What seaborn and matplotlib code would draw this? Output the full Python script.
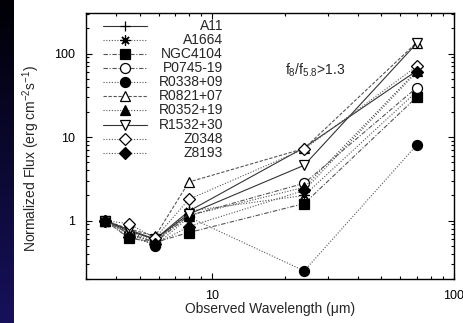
import matplotlib.pyplot as plt
import numpy as np
import pandas as pd
import seaborn as sns
from matplotlib.ticker import FixedLocator, NullFormatter

sns.set_theme(style="ticks")
plt.rcParams["font.family"] = ["Liberation Sans", "DejaVu Sans"]
plt.rcParams["mathtext.fontset"] = "custom"
plt.rcParams["mathtext.rm"] = "Liberation Sans"
plt.rcParams["mathtext.it"] = "Liberation Sans:italic"

# observed wavelengths (micron) and normalized fluxes
wavelength = [3.6, 4.5, 5.8, 8.0, 24.0, 70.0]
sources = ["A11", "A1664", "NGC4104", "P0745-19", "R0338+09",
           "R0821+07", "R0352+19", "R1532+30", "Z0348", "Z8193"]
a11 = [1.0, 0.75, 0.60, 1.30, 7.5, 62.0]
a1664 = [1.0, 0.70, 0.55, 1.30, 2.0, 35.0]
ngc4104 = [1.0, 0.62, 0.55, 0.72, 1.6, 30.0]
p0745 = [1.0, 0.70, 0.55, 1.15, 2.8, 39.0]
r0338 = [1.0, 0.70, 0.50, 1.10, 0.25, 8.0]
r0821 = [1.0, 0.80, 0.65, 2.90, 7.3, 135.0]
r0352 = [1.0, 0.72, 0.58, 1.15, 2.5, 62.0]
r1532 = [1.0, 0.78, 0.60, 1.20, 4.6, 132.0]
z0348 = [1.0, 0.92, 0.62, 1.80, 7.2, 70.0]
z8193 = [1.0, 0.64, 0.52, 0.85, 2.3, 60.0]
fluxes = [a11, a1664, ngc4104, p0745, r0338, r0821, r0352, r1532, z0348, z8193]

df = pd.DataFrame({
    "source": np.repeat(sources, len(wavelength)),
    "wavelength": wavelength * len(sources),
    "flux": np.concatenate(fluxes),
})

dot = (0, (1, 1.5))
dashdot = (0, (4, 1.5, 1, 1.5))
dash = (0, (3, 1.5))
styles = {
    "A11": dict(marker="+", markerfacecolor="black", linestyle="-", color="#333333"),
    "A1664": dict(marker=(8, 2, 0), markerfacecolor="black", linestyle=dot, color="#555555"),
    "NGC4104": dict(marker="s", markerfacecolor="black", linestyle=dashdot, color="#555555"),
    "P0745-19": dict(marker="o", markerfacecolor="white", linestyle=dashdot, color="#555555"),
    "R0338+09": dict(marker="o", markerfacecolor="black", linestyle=dot, color="#555555"),
    "R0821+07": dict(marker="^", markerfacecolor="white", linestyle=dash, color="#555555"),
    "R0352+19": dict(marker="^", markerfacecolor="black", linestyle=dot, color="#555555"),
    "R1532+30": dict(marker="v", markerfacecolor="white", linestyle="-", color="#333333"),
    "Z0348": dict(marker="D", markerfacecolor="white", linestyle=dot, color="#555555"),
    "Z8193": dict(marker="D", markerfacecolor="black", linestyle=dot, color="#555555"),
}

fig = plt.figure(figsize=(4.64, 3.23), dpi=100)
fig.patch.set_facecolor("white")

# dark slide strip on the left edge
strip = fig.add_axes([0, 0, 13.5 / 464, 1])
grad = np.linspace(0, 1, 256)[:, None]
strip.imshow(grad, aspect="auto", cmap=sns.blend_palette(["#000005", "#17115c"], as_cmap=True))
strip.set_axis_off()

ax = fig.add_axes([86 / 464, 44 / 323, 368 / 464, 266.5 / 323])

for name in sources:
    st = styles[name]
    ms = 6.0 if st["marker"] == "D" else 7.2
    sns.lineplot(
        data=df[df["source"] == name],
        x="wavelength",
        y="flux",
        ax=ax,
        errorbar=None,
        label=name,
        marker=st["marker"],
        markersize=ms,
        markerfacecolor=st["markerfacecolor"],
        markeredgecolor="black",
        markeredgewidth=0.9,
        linestyle=st["linestyle"],
        color=st["color"],
        linewidth=0.8,
    )

ax.set_xscale("log")
ax.set_yscale("log")
ax.set_xlim(3.0, 100)
ax.set_ylim(0.2, 310)
ax.set_xlabel("")
ax.set_ylabel("")

ax.xaxis.set_major_locator(FixedLocator([10, 100]))
ax.xaxis.set_minor_locator(FixedLocator([3, 4, 5, 6, 7, 8, 9, 20, 30, 40, 50, 60, 70, 80, 90]))
ax.set_xticklabels(["10", "100"])
ax.xaxis.set_minor_formatter(NullFormatter())
ax.yaxis.set_major_locator(FixedLocator([1, 10, 100]))
ax.yaxis.set_minor_locator(FixedLocator([0.2, 0.3, 0.4, 0.5, 0.6, 0.7, 0.8, 0.9,
                                         2, 3, 4, 5, 6, 7, 8, 9,
                                         20, 30, 40, 50, 60, 70, 80, 90, 200, 300]))
ax.set_yticklabels(["1", "10", "100"])
ax.yaxis.set_minor_formatter(NullFormatter())

ax.tick_params(which="both", direction="in", top=True, right=True, colors="black",
               labelsize=9, width=0.8)
ax.tick_params(which="major", length=4, pad=8)
ax.tick_params(which="minor", length=2.5)
for sp in ax.spines.values():
    sp.set_color("black")
    sp.set_linewidth(1.0)

ax.text(0.54, 0.784, r"f$_{8}$/f$_{5.8}$>1.3", transform=ax.transAxes, fontsize=10,
        ha="left", va="center")

fig.text(270 / 464, 1 - 309 / 323, "Observed Wavelength (\u03bcm)", fontsize=10,
         ha="center", va="center")
fig.text(31 / 464, 1 - 158 / 323, r"Normalized Flux (erg cm$^{-2}$s$^{-1}$)", fontsize=10,
         ha="center", va="center", rotation=90)

# legend: sample lines from the library, names right-aligned next to them
handles, labels = ax.get_legend_handles_labels()
leg = ax.legend(handles, [""] * len(labels), loc="upper left", bbox_to_anchor=(0.046, 0.974),
                frameon=False, fontsize=10, handlelength=3.17, handletextpad=0.0,
                labelspacing=0.01, borderpad=0, borderaxespad=0, numpoints=1)
fig.canvas.draw()
renderer = fig.canvas.get_renderer()
for h, lab in zip(leg.legend_handles, labels):
    bb = h.get_window_extent(renderer)
    yc = 0.5 * (bb.y0 + bb.y1)
    fig.text(223 / 464, yc / fig.bbox.height, lab, fontsize=10, ha="right", va="center")

fig.savefig("out.png", dpi=100)
